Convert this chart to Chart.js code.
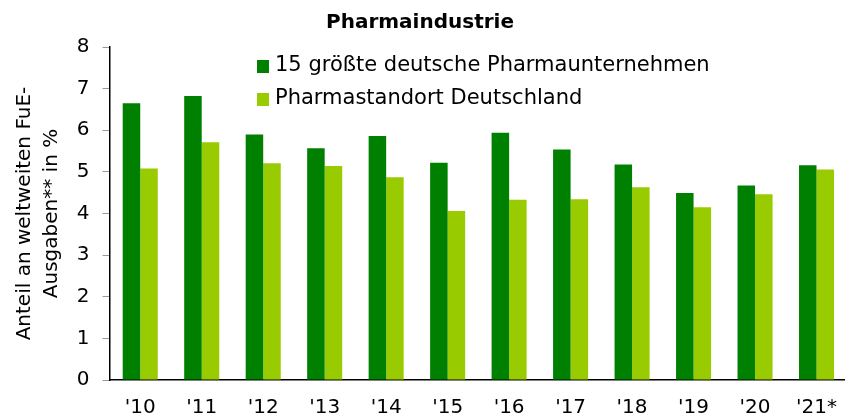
<!DOCTYPE html>
<html lang="de">
<head>
<meta charset="utf-8">
<title>Pharmaindustrie</title>
<script src="https://cdn.jsdelivr.net/npm/chart.js@4/dist/chart.umd.min.js"></script>
<style>
    html, body { margin: 0; padding: 0; background: #fff; overflow: hidden; }
    #wrap { position: relative; width: 845px; height: 414px; overflow: hidden; }
    #pharma-chart { position: absolute; left: -13px; top: 0; }
</style>
</head>
<body>
<div id="wrap">
    <canvas id="pharma-chart" width="866" height="430"></canvas>
</div>
<script>
const years = ["'10", "'11", "'12", "'13", "'14", "'15", "'16", "'17", "'18", "'19", "'20", "'21*"];
const top15Values = [6.65, 6.82, 5.90, 5.57, 5.86, 5.22, 5.94, 5.54, 5.18, 4.49, 4.67, 5.16];
const standortValues = [5.08, 5.71, 5.21, 5.14, 4.87, 4.06, 4.33, 4.34, 4.63, 4.15, 4.46, 5.06];
const seriesNames = ['15 größte deutsche Pharmaunternehmen', 'Pharmastandort Deutschland'];
const yTicks = [0, 1, 2, 3, 4, 5, 6, 7, 8];

document.addEventListener('DOMContentLoaded', () => {
    const chartCanvas = document.getElementById('pharma-chart');
    const fontFamily = "'DejaVu Sans', Verdana, sans-serif";

    // Legende innerhalb der Zeichenfläche, zwei Zeilen untereinander
    const innerLegend = {
        id: 'innerLegend',
        afterDraw: (chart) => {
            const ctx = chart.ctx;
            ctx.save();
            ctx.font = `21px ${fontFamily}`;
            ctx.textBaseline = 'middle';
            chart.data.datasets.forEach((ds, i) => {
                const y = 66 + i * 33;
                ctx.fillStyle = ds.backgroundColor;
                ctx.fillRect(270, y - 6, 12, 13);
                ctx.fillStyle = '#000';
                ctx.fillText(ds.label, 288, y);
            });
            ctx.restore();
        }
    };

    new Chart(chartCanvas, {
        type: 'bar',
        data: {
            labels: years,
            datasets: [
                {
                    label: seriesNames[0],
                    data: top15Values,
                    backgroundColor: '#008000',
                    categoryPercentage: 0.57,
                    barPercentage: 1.0
                },
                {
                    label: seriesNames[1],
                    data: standortValues,
                    backgroundColor: '#99cc00',
                    categoryPercentage: 0.57,
                    barPercentage: 1.0
                }
            ]
        },
        options: {
            responsive: false,
            animation: false,
            layout: { padding: { left: 0, right: 0, top: 0, bottom: 0 } },
            plugins: {
                legend: { display: false },
                tooltip: { enabled: false },
                title: {
                    display: true,
                    text: 'Pharmaindustrie',
                    color: '#000',
                    font: { family: fontFamily, size: 20, weight: 'bold', lineHeight: 1.2 },
                    padding: { top: 11, bottom: 12 }
                }
            },
            scales: {
                x: {
                    grid: { display: false, drawTicks: false },
                    border: { display: true, color: '#000', width: 1.5 },
                    ticks: {
                        color: '#000',
                        padding: 16,
                        maxRotation: 0,
                        autoSkip: false,
                        font: { family: fontFamily, size: 20 }
                    },
                    afterFit: (scale) => { scale.height = 50; }
                },
                y: {
                    min: 0,
                    max: 8,
                    afterBuildTicks: (scale) => {
                        scale.ticks = yTicks.map(v => ({ value: v }));
                    },
                    grid: {
                        drawOnChartArea: false,
                        drawTicks: true,
                        tickLength: 7,
                        color: '#999'
                    },
                    border: { display: true, color: '#000', width: 1.5 },
                    ticks: {
                        color: '#000',
                        padding: 13,
                        font: { family: fontFamily, size: 20 }
                    },
                    title: {
                        display: true,
                        text: ['Anteil an weltweiten FuE-', 'Ausgaben** in %'],
                        color: '#000',
                        font: { family: fontFamily, size: 20, lineHeight: '27px' },
                        padding: { top: 24, bottom: 0 }
                    },
                    afterFit: (scale) => { scale.width = 122.5; }
                }
            }
        },
        plugins: [innerLegend]
    });
});
</script>
</body>
</html>
